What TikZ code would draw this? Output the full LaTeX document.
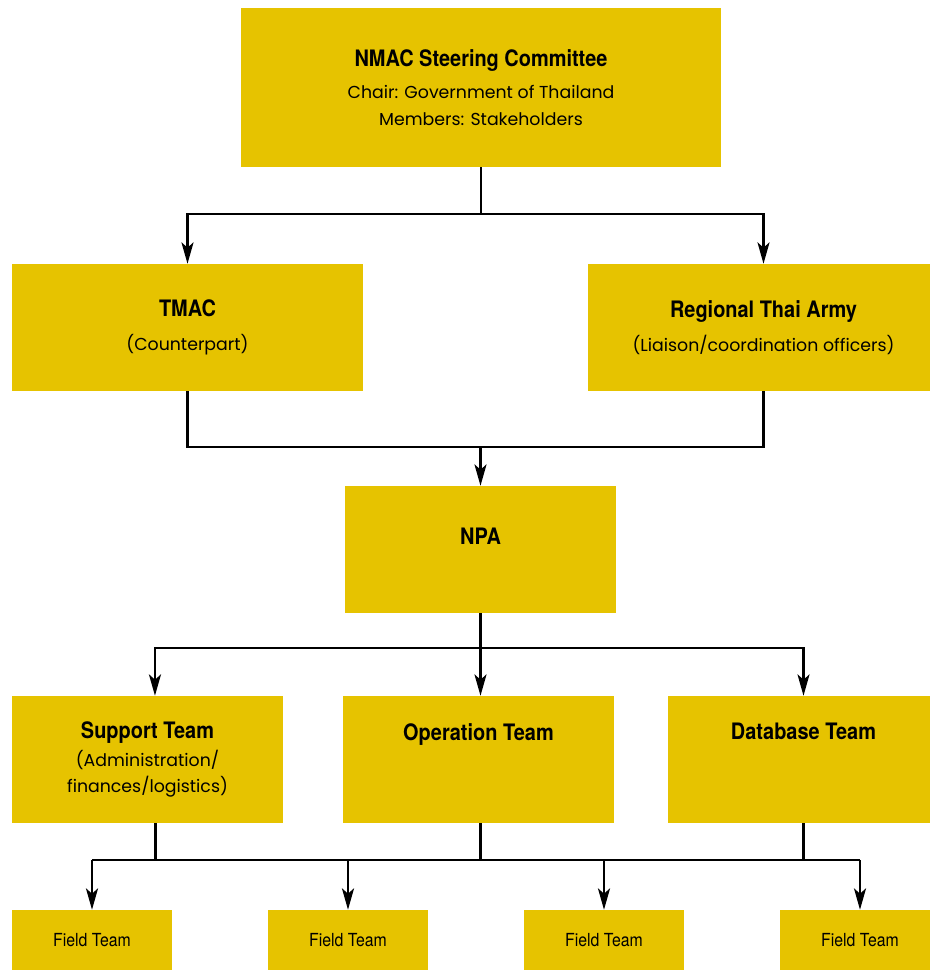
\documentclass[tikz,border=0pt]{standalone}
\usepackage{fontspec}
\setmainfont{Poppins}
\newfontfamily\headfont{TeX Gyre Heros}[FakeStretch=0.88]
\usetikzlibrary{positioning, arrows.meta}
\definecolor{nmacgold}{RGB}{230,195,0}
\tikzset{
  orgbox/.style   = {fill=nmacgold, inner sep=0pt, align=center, font=\fontsize{13}{20}\selectfont},
  widebox/.style  = {orgbox, minimum width=263.25pt, minimum height=95.25pt},
  teambox/.style  = {orgbox, minimum width=203.25pt, minimum height=95.25pt},
  fieldbox/.style = {orgbox, minimum width=120pt, minimum height=45pt, font=\headfont\fontsize{13.5}{15}\selectfont},
  link/.style     = {line width=1.9pt},
  arrow/.style    = {link, -{Stealth[length=16pt, width=9pt, inset=4pt]}}
}
\newcommand{\hd}[1]{{\headfont\bfseries\fontsize{17}{18}\selectfont #1}}

\begin{document}
\begin{tikzpicture}[x=0.75pt, y=-0.75pt]
  \useasboundingbox (0,0) rectangle (929,971);
  % boxes
  \node[orgbox, minimum width=360pt, minimum height=119.25pt] (nmac) at (481,87.5)
    {\hd{NMAC Steering Committee}\\[4pt] Chair: Government of Thailand\\ Members: Stakeholders};
  \node[widebox] (tmac) at (187.5,327.5) {\hd{TMAC}\\[6pt] (Counterpart)};
  \node[widebox] (army) at (763.5,327.5) {\hd{Regional Thai Army}\\[6pt] (Liaison/coordination officers)};
  \node[teambox] (npa)  at (480.5,549.5) {\hd{NPA}\\ ~};
  \node[teambox] (sup)  at (147.5,759.5) {\hd{Support Team}\\[1pt] (Administration/\\ finances/logistics)};
  \node[teambox] (opt)  at (478.5,759.5) {\hd{Operation Team}\\[1pt] ~\\ ~};
  \node[teambox] (dbt)  at (803.5,759.5) {\hd{Database Team}\\[2pt] ~\\ ~};
  \node[fieldbox] (f1) at (92,940)  {Field Team};
  \node[fieldbox] (f2) at (348,940) {Field Team};
  \node[fieldbox] (f3) at (604,940) {Field Team};
  \node[fieldbox] (f4) at (860,940) {Field Team};
  % bus lines
  \coordinate (busa) at (0,214);
  \coordinate (busb) at (0,447);
  \coordinate (busc) at (0,648);
  \coordinate (busd) at (0,860);
  % steering committee to counterparts
  \draw[link] (nmac.south) -- (nmac.south |- busa);
  \draw[arrow] (nmac.south |- busa) -| (tmac.north);
  \draw[arrow] (nmac.south |- busa) -| (army.north);
  % counterparts to NPA
  \draw[link] (tmac.south) |- (army.south |- busb) -- (army.south);
  \draw[arrow] (npa.north |- busb) -- (npa.north);
  % NPA to teams
  \draw[link] (npa.south) -- (npa.south |- busc);
  \draw[arrow] (npa.south |- busc) -| ([xshift=5.6pt]sup.north);
  \draw[arrow] (npa.south |- busc) -| (dbt.north);
  \draw[arrow] (npa.south) -- (npa.south |- opt.north);
  % teams to field teams
  \draw[link] ([xshift=6pt]sup.south) -- ([xshift=6pt]sup.south |- busd);
  \draw[link] ([xshift=1.5pt]opt.south) -- ([xshift=1.5pt]opt.south |- busd);
  \draw[link] (dbt.south) -- (dbt.south |- busd);
  \draw[link] (f1.north |- busd) -- (f4.north |- busd);
  \draw[arrow] (f1.north |- busd) -- (f1.north);
  \draw[arrow] (f2.north |- busd) -- (f2.north);
  \draw[arrow] (f3.north |- busd) -- (f3.north);
  \draw[arrow] (f4.north |- busd) -- (f4.north);
\end{tikzpicture}
\end{document}
